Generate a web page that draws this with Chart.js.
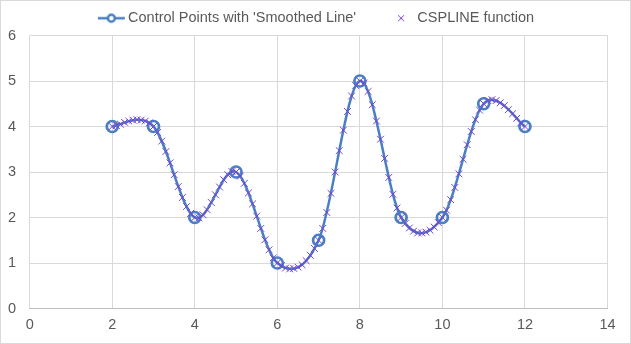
<!DOCTYPE html>
<html>
<head>
<meta charset="utf-8">
<script src="https://cdn.jsdelivr.net/npm/chart.js@4.4.1/dist/chart.umd.min.js"></script>
<style>
  html, body { margin: 0; padding: 0; background: #fff; }
  #wrap { width: 631px; height: 344px; box-sizing: border-box; border: 1px solid #d9d9d9; }
  canvas { display: block; }
</style>
</head>
<body>
<div id="wrap"><canvas id="chart" width="629" height="342"></canvas></div>
<script>
  // control points (Excel smoothed line)
  const ctrlX = [2, 3, 4, 5, 6, 7, 8, 9, 10, 11, 12];
  const ctrlY = [4, 4, 2, 3, 1, 1.5, 5, 2, 2, 4.5, 4];

  // CSPLINE function output
  const splineX = [
    2.0, 2.1, 2.2, 2.3, 2.4, 2.5, 2.6, 2.7, 2.8, 2.9,
    3.0, 3.1, 3.2, 3.3, 3.4, 3.5, 3.6, 3.7, 3.8, 3.9,
    4.0, 4.1, 4.2, 4.3, 4.4, 4.5, 4.6, 4.7, 4.8, 4.9,
    5.0, 5.1, 5.2, 5.3, 5.4, 5.5, 5.6, 5.7, 5.8, 5.9,
    6.0, 6.1, 6.2, 6.3, 6.4, 6.5, 6.6, 6.7, 6.8, 6.9,
    7.0, 7.1, 7.2, 7.3, 7.4, 7.5, 7.6, 7.7, 7.8, 7.9,
    8.0, 8.1, 8.2, 8.3, 8.4, 8.5, 8.6, 8.7, 8.8, 8.9,
    9.0, 9.1, 9.2, 9.3, 9.4, 9.5, 9.6, 9.7, 9.8, 9.9,
    10.0, 10.1, 10.2, 10.3, 10.4, 10.5, 10.6, 10.7, 10.8, 10.9,
    11.0, 11.1, 11.2, 11.3, 11.4, 11.5, 11.6, 11.7, 11.8, 11.9,
    12.0
  ];
  const splineY = [
    4.00, 4.02, 4.05, 4.09, 4.12, 4.14, 4.15, 4.14, 4.12, 4.08,
    4.00, 3.87, 3.68, 3.45, 3.20, 2.94, 2.68, 2.44, 2.24, 2.09,
    2.00, 1.99, 2.06, 2.17, 2.33, 2.50, 2.67, 2.83, 2.94, 3.01,
    3.00, 2.91, 2.75, 2.54, 2.30, 2.03, 1.76, 1.51, 1.29, 1.11,
    1.00, 0.94, 0.89, 0.87, 0.88, 0.91, 0.96, 1.05, 1.17, 1.32,
    1.50, 1.76, 2.11, 2.53, 3.00, 3.47, 3.92, 4.33, 4.67, 4.90,
    5.00, 4.95, 4.77, 4.48, 4.12, 3.72, 3.30, 2.88, 2.51, 2.21,
    2.00, 1.87, 1.77, 1.70, 1.66, 1.66, 1.68, 1.72, 1.79, 1.89,
    2.00, 2.16, 2.39, 2.66, 2.96, 3.28, 3.60, 3.89, 4.15, 4.36,
    4.50, 4.57, 4.59, 4.57, 4.52, 4.46, 4.37, 4.28, 4.18, 4.08,
    4.00
  ];

  const xTicks = [0, 2, 4, 6, 8, 10, 12, 14];
  const yTicks = [0, 1, 2, 3, 4, 5, 6];

  const blue = '#4a7fc2';
  const purple = '#7442d4';
  const textColor = '#595959';
  const gridColor = '#d9d9d9';
  const font = { family: "'Liberation Sans', Arial, sans-serif", size: 14.5 };

  // legend icons
  function lineIcon() {
    const c = document.createElement('canvas');
    c.width = 54; c.height = 14;
    const g = c.getContext('2d');
    g.strokeStyle = blue;
    g.lineWidth = 2.5;
    g.beginPath(); g.moveTo(26, 7); g.lineTo(53, 7); g.stroke();
    g.beginPath(); g.arc(39.5, 7, 3.5, 0, Math.PI * 2);
    g.fillStyle = '#fff'; g.fill(); g.stroke();
    return c;
  }
  function crossIcon() {
    const c = document.createElement('canvas');
    c.width = 36; c.height = 14;
    const g = c.getContext('2d');
    g.strokeStyle = purple;
    g.lineWidth = 1;
    g.beginPath();
    g.moveTo(28, 4); g.lineTo(34, 10);
    g.moveTo(34, 4); g.lineTo(28, 10);
    g.stroke();
    return c;
  }
  const icons = [lineIcon(), crossIcon()];

  // Excel's smoothed line is a uniform Catmull-Rom curve; Chart.js weights
  // its handles by distance, so reset the handles before the line is drawn
  const excelSmooth = {
    id: 'excelSmooth',
    beforeDatasetDraw(chart, args) {
      if (args.index !== 0) return;
      const pts = args.meta.data;
      args.meta.dataset.updateControlPoints(chart.chartArea, 'x');
      pts.forEach((p, i) => {
        const prev = pts[Math.max(i - 1, 0)];
        const next = pts[Math.min(i + 1, pts.length - 1)];
        const dx = (next.x - prev.x) / 6;
        const dy = (next.y - prev.y) / 6;
        p.cp1x = p.x - dx; p.cp1y = p.y - dy;
        p.cp2x = p.x + dx; p.cp2y = p.y + dy;
      });
    }
  };

  new Chart(document.getElementById('chart'), {
    type: 'scatter',
    data: {
      datasets: [
        {
          label: "Control Points with 'Smoothed Line'",
          data: ctrlX.map((x, i) => ({ x: x, y: ctrlY[i] })),
          showLine: true,
          tension: 0.35,
          borderColor: blue,
          borderWidth: 2.5,
          pointStyle: 'circle',
          pointRadius: 5.5,
          pointBorderWidth: 2.7,
          pointBorderColor: blue,
          pointBackgroundColor: 'rgba(0,0,0,0)',
          order: 2
        },
        {
          label: 'CSPLINE function',
          data: splineX.map((x, i) => ({ x: x, y: splineY[i] })),
          showLine: false,
          pointStyle: 'crossRot',
          pointRadius: 4.8,
          pointBorderWidth: 1,
          pointBorderColor: purple,
          order: 1
        }
      ]
    },
    options: {
      responsive: false,
      animation: false,
      layout: { padding: { left: 2.5, right: 22.5, top: 0, bottom: 0 } },
      plugins: {
        tooltip: { enabled: false },
        legend: {
          position: 'top',
          labels: {
            usePointStyle: true,
            pointStyleWidth: 44,
            padding: 10,
            color: textColor,
            font: font,
            generateLabels: chart => chart.data.datasets.map((ds, i) => ({
              text: ds.label,
              pointStyle: icons[i],
              fillStyle: 'transparent',
              strokeStyle: 'transparent',
              lineWidth: 0,
              fontColor: textColor,
              datasetIndex: i,
              hidden: false
            }))
          }
        }
      },
      scales: {
        x: {
          type: 'linear',
          min: 0,
          max: 14,
          afterBuildTicks: s => { s.ticks = xTicks.map(v => ({ value: v })); },
          afterFit: s => { s.height = 34.5; },
          grid: { color: gridColor, drawTicks: false },
          border: { color: '#bfbfbf' },
          ticks: { padding: 8, color: textColor, font: font }
        },
        y: {
          min: 0,
          max: 6,
          afterBuildTicks: s => { s.ticks = yTicks.map(v => ({ value: v })); },
          afterFit: s => { s.width = 26.2; },
          grid: { color: gridColor, drawTicks: false },
          border: { display: false },
          ticks: { padding: 13.7, color: textColor, font: font }
        }
      }
    },
    plugins: [excelSmooth]
  });
</script>
</body>
</html>
